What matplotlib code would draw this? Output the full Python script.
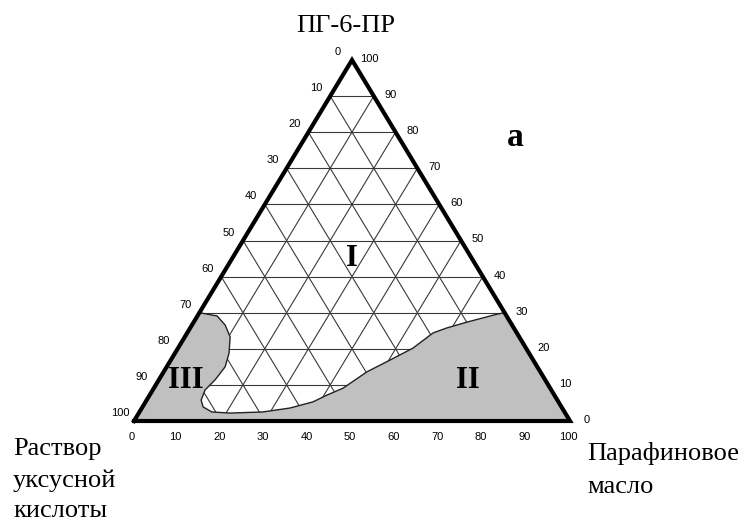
import numpy as np
import matplotlib.pyplot as plt
from matplotlib.patches import Polygon

plt.rcParams['font.family'] = ['Liberation Serif', 'DejaVu Serif']

# tick values on each side of the triangle
ticks = [0, 10, 20, 30, 40, 50, 60, 70, 80, 90, 100]

# boundary of region I (homogeneous area), as compositions:
# paraffin oil, %  and  ПГ-6-ПР, %
bound_p = [0.0, 4.5, 7.6, 10.4, 12.4, 13.4, 12.9, 12.0, 12.5, 13.9, 16.6,
           20.9, 28.3, 34.0, 38.4, 40.7, 43.4, 46.6, 50.3, 53.9, 56.4,
           58.9, 62.7, 68.5, 70.0]
bound_t = [30.0, 29.1, 26.6, 23.3, 18.8, 15.0, 11.4, 8.6, 5.8, 3.9, 2.5,
           2.2, 2.5, 3.6, 5.3, 7.2, 9.1, 13.6, 16.9, 20.2, 24.4,
           25.8, 27.4, 29.6, 30.0]

left_label = ['Раствор', 'уксусной', 'кислоты']
right_label = ['Парафиновое', 'масло']

PX = 0.72  # pixels -> points at dpi 100


def tern(p, t):
    p = np.asarray(p, dtype=float)
    t = np.asarray(t, dtype=float)
    return p + t / 2.0, t


def main():
    fig = plt.figure(figsize=(7.48, 5.21), dpi=100)
    ax = fig.add_axes([134 / 748, 100 / 521, 436 / 748, 361 / 521])
    ax.set_xlim(0, 100)
    ax.set_ylim(0, 100)
    ax.axis('off')

    cx, cy = tern([0, 100, 0], [0, 0, 100])
    tri = np.column_stack([cx, cy])

    # the whole diagram is gray, region I is cut out in white
    ax.add_patch(Polygon(tri, closed=True, fc='#c0c0c0', ec='none',
                         zorder=1, clip_on=False))

    bx, by = tern(bound_p, bound_t)
    reg = np.column_stack([bx, by])
    reg = np.vstack([reg, [cx[2], cy[2]]])
    reg1 = Polygon(reg, closed=True, fc='white', ec='none', zorder=2,
                   clip_on=False)
    ax.add_patch(reg1)
    ax.plot(bx, by, color='#222222', lw=1.0, zorder=4, clip_on=False)

    # grid, only inside region I
    for v in ticks[1:-1]:
        lines = [
            tern([0, 100 - v], [v, v]),
            tern([v, v], [0, 100 - v]),
            tern([0, 100 - v], [100 - v, 0]),
        ]
        for gx, gy in lines:
            ln, = ax.plot(gx, gy, color='#3a3a3a', lw=0.8, zorder=3)
            ln.set_clip_path(reg1)

    ax.plot(np.append(cx, cx[0]), np.append(cy, cy[0]), color='black',
            lw=3.0, zorder=5, solid_joinstyle='miter', clip_on=False)

    tk = dict(fontsize=8, family=['Liberation Sans', 'DejaVu Sans'],
              ha='center', va='center', textcoords='offset points')
    for v in ticks:
        # left side: acetic acid solution
        x, y = tern(0, 100 - v)
        ax.annotate(str(v), (x, y), xytext=(-14 * PX, 8 * PX), **tk)
        # right side: ПГ-6-ПР
        x, y = tern(100 - v, v)
        ax.annotate(str(v), (x, y), xytext=(17 * PX, 1 * PX), **tk)
        # bottom: paraffin oil
        x, y = tern(v, 0)
        ax.annotate(str(v), (x, y), xytext=(-2 * PX, -16 * PX), **tk)

    rl = dict(fontsize=22, fontweight='bold', ha='center', va='center')
    fig.text(352 / 748, 1 - 259 / 521, 'I', **rl)
    fig.text(468 / 748, 1 - 380 / 521, 'II', **rl)
    fig.text(186 / 748, 1 - 380 / 521, 'III', **rl)
    fig.text(515 / 748, 1 - 137 / 521, 'а', fontsize=24, fontweight='bold',
             ha='center', va='center')

    fig.text(346 / 748, 1 - 32 / 521, 'ПГ-6-ПР', fontsize=19,
             ha='center', va='baseline')
    for s, yb in zip(left_label, [455, 487, 517]):
        fig.text(13 / 748, 1 - yb / 521, s, fontsize=19,
                 ha='left', va='baseline')
    for s, yb in zip(right_label, [460, 493]):
        fig.text(587 / 748, 1 - yb / 521, s, fontsize=19,
                 ha='left', va='baseline')

    fig.savefig('out.png', dpi=100)


if __name__ == "__main__":
    main()
